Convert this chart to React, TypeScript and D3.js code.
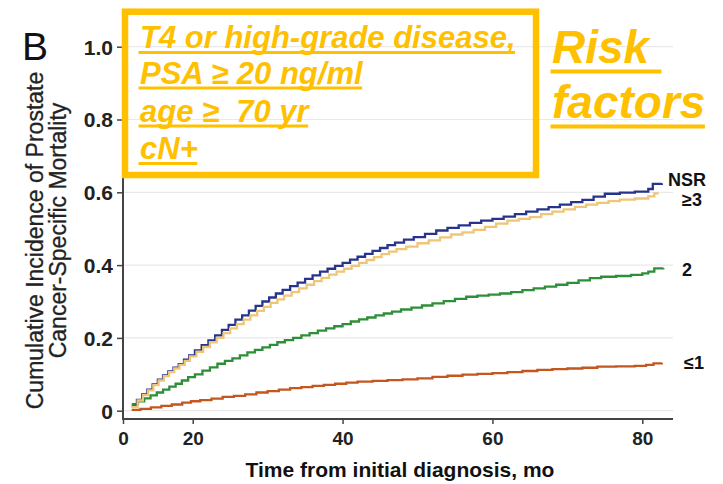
import React, { useEffect, useRef } from 'react';
import * as d3 from 'd3';

const W = 723;
const H = 484;

// Cumulative incidence step curves (month, cumulative incidence)
const nsrMonths = [2.5, 4, 5.5, 7, 8.5, 10, 11.5, 13, 14.5, 16, 17.5, 19, 20.3, 21.2, 22.1, 23, 23.9, 24.8, 25.7, 26.6, 27.5, 28.4, 29.3, 30.2, 31.1, 32, 33, 34, 35, 36, 37, 38, 39, 40, 41, 42, 43, 44, 45, 46, 47, 48.2, 49.5, 51, 52.5, 54, 55.5, 57, 58.5, 60, 61.5, 63, 64.5, 66, 67.5, 69, 70.5, 72, 73.5, 75, 77, 79, 80.8, 81.4, 82.6];
const nsrValues = [0.012, 0.03, 0.045, 0.058, 0.072, 0.085, 0.097, 0.108, 0.118, 0.128, 0.14, 0.152, 0.166, 0.18, 0.193, 0.207, 0.222, 0.236, 0.25, 0.262, 0.275, 0.288, 0.3, 0.311, 0.322, 0.332, 0.342, 0.352, 0.362, 0.372, 0.382, 0.39, 0.398, 0.406, 0.415, 0.423, 0.431, 0.439, 0.447, 0.455, 0.462, 0.47, 0.477, 0.486, 0.495, 0.502, 0.509, 0.516, 0.522, 0.527, 0.533, 0.54, 0.547, 0.553, 0.559, 0.566, 0.573, 0.579, 0.588, 0.596, 0.599, 0.602, 0.609, 0.623, 0.625];

const ge3Months = [2.5, 4.2, 5.7, 7.2, 8.7, 10.2, 11.7, 13.2, 14.7, 16.2, 17.7, 19.2, 20.5, 21.4, 22.3, 23.2, 24.1, 25, 25.9, 26.8, 27.7, 28.6, 29.5, 30.4, 31.3, 32.2, 33.2, 34.2, 35.2, 36.2, 37.2, 38.2, 39.2, 40.2, 41.2, 42.2, 43.2, 44.2, 45.2, 46.2, 47.2, 48.5, 50, 51.5, 53, 54.5, 56, 57.5, 59, 60.5, 62, 63.5, 65, 66.5, 68, 69.5, 71, 72.5, 74, 75.5, 77, 79, 80.8, 81.6, 82.2];
const ge3Values = [0.01, 0.028, 0.043, 0.056, 0.07, 0.083, 0.095, 0.106, 0.116, 0.126, 0.137, 0.149, 0.162, 0.175, 0.188, 0.2, 0.213, 0.226, 0.238, 0.25, 0.262, 0.274, 0.285, 0.296, 0.306, 0.316, 0.326, 0.336, 0.346, 0.356, 0.365, 0.374, 0.382, 0.39, 0.398, 0.406, 0.414, 0.422, 0.43, 0.437, 0.444, 0.451, 0.46, 0.468, 0.476, 0.484, 0.49, 0.497, 0.505, 0.514, 0.522, 0.527, 0.532, 0.54, 0.547, 0.553, 0.56, 0.566, 0.571, 0.576, 0.58, 0.583, 0.589, 0.597, 0.597];

const twoMonths = [2.5, 4.3, 6.1, 7.9, 9.7, 11.5, 13.3, 15.1, 16.9, 18.7, 20.3, 21.3, 22.3, 23.3, 24.3, 25.3, 26.3, 27.3, 28.3, 29.3, 30.3, 31.3, 32.3, 33.4, 34.5, 35.6, 36.7, 37.8, 38.9, 40, 41.1, 42.2, 43.3, 44.4, 45.5, 46.6, 47.8, 49.2, 50.6, 52, 53.5, 55, 56.5, 58, 59.5, 61, 62.5, 64, 65.5, 67, 68.5, 70, 71.5, 73, 74.5, 76.5, 78.5, 80, 80.8, 81.6, 82.8];
const twoValues = [0.018, 0.026, 0.034, 0.042, 0.05, 0.058, 0.066, 0.074, 0.083, 0.092, 0.1, 0.11, 0.119, 0.129, 0.137, 0.144, 0.152, 0.16, 0.167, 0.174, 0.181, 0.188, 0.194, 0.2, 0.207, 0.213, 0.22, 0.226, 0.232, 0.238, 0.245, 0.251, 0.256, 0.262, 0.267, 0.272, 0.278, 0.283, 0.289, 0.295, 0.301, 0.307, 0.313, 0.316, 0.319, 0.322, 0.326, 0.331, 0.336, 0.341, 0.346, 0.351, 0.358, 0.364, 0.368, 0.37, 0.373, 0.377, 0.382, 0.391, 0.392];

const le1Months = [2.5, 5, 8, 11, 14, 17, 19.5, 21, 22.5, 24, 25.5, 27, 28.5, 30, 31.5, 33, 34.5, 36, 37.5, 39, 40.5, 42, 44, 46, 48, 50, 52, 54, 56, 58, 60, 62, 64, 66, 68, 70, 72, 74, 76.5, 79, 80.5, 81.5, 82.6];
const le1Values = [0.002, 0.005, 0.009, 0.013, 0.017, 0.022, 0.026, 0.029, 0.033, 0.038, 0.041, 0.045, 0.05, 0.054, 0.058, 0.062, 0.065, 0.068, 0.071, 0.074, 0.077, 0.08, 0.082, 0.084, 0.086, 0.089, 0.093, 0.096, 0.099, 0.101, 0.103, 0.106, 0.109, 0.112, 0.114, 0.116, 0.118, 0.121, 0.122, 0.123, 0.126, 0.13, 0.132];

const seriesNames = ['≤1', '2', 'NSR', '≥3'];
const yTicks = [0, 0.2, 0.4, 0.6, 0.8, 1.0];
const xTicks = [0, 20, 40, 60, 80];
const boxLines = ['T4 or high-grade disease,', 'PSA ≥ 20 ng/ml', 'age ≥  70 yr', 'cN+'];
const riskLines = ['Risk ', 'factors'];
const yTitleLines = ['Cumulative Incidence of Prostate', 'Cancer-Specific Mortality'];
const xTitle = 'Time from initial diagnosis, mo';
const panelLetter = 'B';

const GOLD = '#FFC000';
const FONT = '"Liberation Sans", Arial, Helvetica, sans-serif';

const seriesStyle: Record<string, { color: string; dx: number; dy: number }> = {
  '≤1': { color: '#C4561F', dx: 684, dy: 6 },
  '2': { color: '#2E8E39', dx: 682, dy: 8 },
  'NSR': { color: '#28348C', dx: 668, dy: 3 },
  '≥3': { color: '#EEC676', dx: 682, dy: 13 },
};

export default function App() {
  const ref = useRef<SVGSVGElement | null>(null);

  useEffect(() => {
    const svg = d3.select(ref.current);
    svg.selectAll('*').remove();

    const x = d3.scaleLinear().domain([0, 20, 80]).range([123, 192.7, 642.3]);
    const y = d3.scaleLinear().domain([0, 1]).range([410.7, 46.7]);
    const xEnd = 673;
    const axisY = 419;

    svg.append('rect').attr('width', W).attr('height', H).attr('fill', '#ffffff');

    // gridlines
    svg.append('g')
      .selectAll('line')
      .data(yTicks)
      .join('line')
      .attr('x1', x(0))
      .attr('x2', xEnd)
      .attr('y1', (d) => y(d))
      .attr('y2', (d) => y(d))
      .attr('stroke', '#e9e9e9')
      .attr('stroke-width', 1.2);

    // axes
    const axisColor = '#444';
    svg.append('line').attr('x1', x(0)).attr('x2', x(0)).attr('y1', y(1)).attr('y2', axisY + 1)
      .attr('stroke', axisColor).attr('stroke-width', 2);
    svg.append('line').attr('x1', x(0) - 1).attr('x2', xEnd).attr('y1', axisY).attr('y2', axisY)
      .attr('stroke', axisColor).attr('stroke-width', 2);

    const yAxis = d3.axisLeft(y).tickValues(yTicks).tickSize(6).tickPadding(4)
      .tickFormat((d) => (+d === 0 ? '0' : d3.format('.1f')(+d)));
    const gy = svg.append('g').attr('transform', `translate(${x(0)},0)`).call(yAxis);
    gy.select('.domain').remove();
    gy.selectAll('line').attr('stroke', axisColor).attr('stroke-width', 1.5);
    gy.selectAll('text')
      .attr('font-family', FONT)
      .attr('font-size', 21)
      .attr('font-weight', 'bold')
      .attr('fill', '#222')
      .attr('x', -10)
      .attr('dy', '0.35em');

    const xAxis = d3.axisBottom(x).tickValues(xTicks).tickSize(5).tickPadding(4)
      .tickFormat((d) => String(d));
    const gx = svg.append('g').attr('transform', `translate(0,${axisY})`).call(xAxis);
    gx.select('.domain').remove();
    gx.selectAll('line').attr('stroke', axisColor).attr('stroke-width', 1.5);
    gx.selectAll('text')
      .attr('font-family', FONT)
      .attr('font-size', 19)
      .attr('font-weight', 'bold')
      .attr('fill', '#222')
      .attr('y', 26)
      .attr('dy', 0);

    // axis titles
    svg.append('text')
      .attr('x', 400)
      .attr('y', 477)
      .attr('text-anchor', 'middle')
      .attr('font-family', FONT)
      .attr('font-size', 21)
      .attr('font-weight', 'bold')
      .attr('fill', '#111')
      .text(xTitle);

    const yTitleCenters = [
      { cx: 35, cy: 240.5 },
      { cx: 58, cy: 230.5 },
    ];
    yTitleLines.forEach((line, i) => {
      const c = yTitleCenters[i];
      svg.append('text')
        .attr('transform', `translate(${c.cx},${c.cy}) rotate(-90)`)
        .attr('text-anchor', 'middle')
        .attr('dy', '0.36em')
        .attr('font-family', FONT)
        .attr('font-size', 23)
        .attr('fill', '#222')
        .attr('stroke', '#222')
        .attr('stroke-width', 0.3)
        .text(line);
    });

    svg.append('text')
      .attr('x', 22)
      .attr('y', 60)
      .attr('font-family', FONT)
      .attr('font-size', 39)
      .attr('fill', '#111')
      .text(panelLetter);

    // curves
    const seriesData: Record<string, { m: number[]; v: number[] }> = {
      '≤1': { m: le1Months, v: le1Values },
      '2': { m: twoMonths, v: twoValues },
      'NSR': { m: nsrMonths, v: nsrValues },
      '≥3': { m: ge3Months, v: ge3Values },
    };

    const line = d3.line<[number, number]>()
      .x((d) => x(d[0]))
      .y((d) => y(d[1]))
      .curve(d3.curveStepAfter);

    seriesNames.forEach((name) => {
      const s = seriesData[name];
      const pts: [number, number][] = s.m.map((m, i) => [m, s.v[i]]);
      const st = seriesStyle[name];
      svg.append('path')
        .attr('d', line(pts) || '')
        .attr('fill', 'none')
        .attr('stroke', st.color)
        .attr('stroke-width', 2.3)
        .attr('stroke-linejoin', 'miter');
      const last = pts[pts.length - 1];
      svg.append('text')
        .attr('x', st.dx)
        .attr('y', y(last[1]) + st.dy)
        .attr('font-family', FONT)
        .attr('font-size', 18)
        .attr('font-weight', 'bold')
        .attr('fill', '#111')
        .text(name);
    });

    // risk factor box
    svg.append('rect')
      .attr('x', 125)
      .attr('y', 11.7)
      .attr('width', 411)
      .attr('height', 163.3)
      .attr('fill', 'none')
      .attr('stroke', GOLD)
      .attr('stroke-width', 6.5);

    const underlined = (
      text: string, tx: number, ty: number, size: number, offset: number, thick: number,
    ) => {
      const t = svg.append('text')
        .attr('x', tx)
        .attr('y', ty)
        .attr('font-family', FONT)
        .attr('font-size', size)
        .attr('font-weight', 'bold')
        .attr('font-style', 'italic')
        .attr('fill', GOLD)
        .style('white-space', 'pre')
        .text(text);
      const len = (t.node() as SVGTextElement).getComputedTextLength();
      svg.append('rect')
        .attr('x', tx - 1.5)
        .attr('y', ty + offset - thick / 2)
        .attr('width', len + 1)
        .attr('height', thick)
        .attr('fill', GOLD);
    };

    const boxBaselines = [48, 83.5, 121.5, 159];
    boxLines.forEach((l, i) => underlined(l, 140, boxBaselines[i], 31, 4.5, 3));

    const riskBaselines = [63, 118];
    riskLines.forEach((l, i) => underlined(l, 552, riskBaselines[i], 46, 8.5, 4));
  }, []);

  return (
    <svg
      ref={ref}
      width={W}
      height={H}
      style={{ position: 'absolute', left: 0, top: 0, display: 'block' }}
    />
  );
}
